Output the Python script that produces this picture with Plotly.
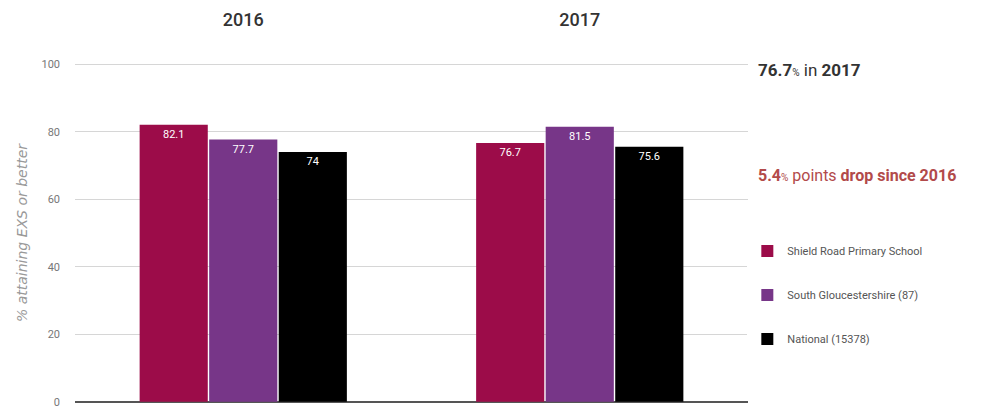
import plotly.graph_objects as go

years = ["2016", "2017"]
series_names = ["Shield Road Primary School", "South Gloucestershire (87)", "National (15378)"]
school = [82.1, 76.7]
south_glos = [77.7, 81.5]
national = [74, 75.6]
colors = ["#9c0c49", "#773688", "#000000"]
y_ticks = [0, 20, 40, 60, 80, 100]

FONT = "Roboto, Liberation Sans, sans-serif"

fig = go.Figure()
for i, (name, vals) in enumerate(zip(series_names, [school, south_glos, national])):
    fig.add_trace(go.Bar(
        x=years, y=vals, name=name,
        marker=dict(color=colors[i], line=dict(width=0)),
        text=[str(v) for v in vals], textposition="inside", insidetextanchor="end",
        textfont=dict(color="white", size=11, family=FONT),
        legendgroup=name,
    ))

fig.update_layout(
    width=984, height=407,
    margin=dict(l=75, r=236, t=63, b=4),
    paper_bgcolor="white", plot_bgcolor="white",
    barmode="group", bargap=0.38, bargroupgap=0.02,
    font=dict(family=FONT, color="#555"),
    showlegend=True,
    legend=dict(x=0.999, y=0.49, xanchor="left", yanchor="top",
                font=dict(size=11, color="#555", family=FONT),
                tracegroupgap=25, itemwidth=30),
    xaxis=dict(side="top", tickfont=dict(size=18, color="#333", family=FONT, weight=500),
               ticklabelstandoff=32, showline=False, ticks="", showgrid=False,
               automargin=False),
    yaxis=dict(range=[-0.4, 100.4], tickvals=y_ticks, showgrid=True, gridcolor="#d6d6d6",
               tickfont=dict(size=11, color="#777", family=FONT), ticklabelstandoff=14,
               ticklabeloverflow="allow",
               zeroline=True, zerolinecolor="#555", zerolinewidth=2, automargin=False,
               title=dict(text="<i>% attaining EXS or better</i>", standoff=10,
                          font=dict(size=14, color="#999", family="DejaVu Sans"))),
    annotations=[
        dict(xref="paper", yref="paper", x=1.012, y=0.98, xanchor="left", yanchor="middle",
             showarrow=False,
             text="<b>76.7</b><span style='font-size:10px'>%</span> in <b>2017</b>",
             font=dict(size=17, color="#333", family=FONT)),
        dict(xref="paper", yref="paper", x=1.012, y=0.67, xanchor="left", yanchor="middle",
             showarrow=False,
             text="<b>5.4</b><span style='font-size:10px'>%</span> points <b>drop since 2016</b>",
             font=dict(size=16, color="#b24a4a", family=FONT)),
    ],
)

fig.write_html("out.html", config={"displayModeBar": False},
               post_script="document.body.style.margin='0';")
